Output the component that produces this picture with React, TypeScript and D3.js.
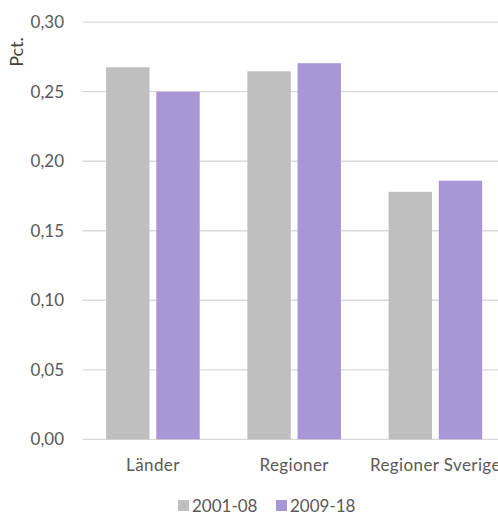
import React from "react";
import * as d3 from "d3";

const categories = ["Länder", "Regioner", "Regioner Sverige"];
const seriesNames = ["2001-08", "2009-18"];
const series1 = [0.2676, 0.2647, 0.178];
const series2 = [0.25, 0.2705, 0.186];
const yTicks = [0, 0.05, 0.1, 0.15, 0.2, 0.25, 0.3];
const colors = ["#bfbfbf", "#a996d6"];

const W = 498;
const H = 514;
const left = 82.3;
const right = 506;
const top = 22.2;
const bottom = 439.3;
const font = "Lato, 'Open Sans', sans-serif";
const textColor = "#595959";

export default function App() {
  const x = d3.scaleBand<string>().domain(categories).range([left, right]).paddingInner(0).paddingOuter(0);
  const y = d3.scaleLinear().domain([0, 0.3]).range([bottom, top]);
  const barW = 43.4;
  const gap = 6.8;
  const fmt = (v: number) => v.toFixed(2).replace(".", ",");
  const data = [series1, series2];
  return (
    <svg width={W} height={H} style={{ position: "absolute", left: 0, top: 0, background: "#fff" }}>
      {yTicks.map((t) => (
        <g key={t}>
          <line x1={left} x2={W} y1={y(t)} y2={y(t)} stroke="#d9d9d9" strokeWidth={1.3} />
          <text x={64} y={y(t)} dy="0.35em" textAnchor="end" fontFamily={font} fontSize={17} fill={textColor}>
            {fmt(t)}
          </text>
        </g>
      ))}
      {categories.map((c, i) => {
        const cx = (x(c) as number) + x.bandwidth() / 2;
        return (
          <g key={c}>
            {data.map((s, j) => {
              const bx = j === 0 ? cx - gap / 2 - barW : cx + gap / 2;
              return (
                <rect key={j} x={bx} y={y(s[i])} width={barW} height={bottom - y(s[i])} fill={colors[j]} />
              );
            })}
            <text x={cx} y={465} dy="0.35em" textAnchor="middle" fontFamily={font} fontSize={17} letterSpacing={0.4} fill={textColor}>
              {c}
            </text>
          </g>
        );
      })}
      <text
        transform="translate(17,52) rotate(-90)"
        textAnchor="middle"
        dy="0.35em"
        fontFamily={font}
        fontSize={18}
        fill="#404040"
      >
        Pct.
      </text>
      {seriesNames.map((n, j) => {
        const lx = j === 0 ? 178 : 276;
        return (
          <g key={n}>
            <rect x={lx} y={500} width={11} height={11} fill={colors[j]} />
            <text x={lx + 14} y={506} dy="0.35em" fontFamily={font} fontSize={17} fill={textColor}>
              {n}
            </text>
          </g>
        );
      })}
    </svg>
  );
}
